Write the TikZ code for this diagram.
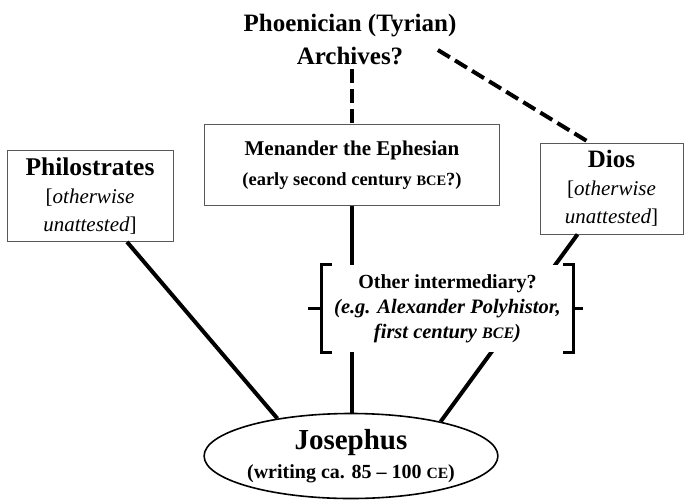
\documentclass[tikz,border=0pt]{standalone}
\usepackage{graphicx}
\usepackage{fontspec}
\setmainfont{Liberation Serif}
\usetikzlibrary{shapes.geometric, calc}
\tikzstyle{source} = [rectangle, draw=black!65, line width=0.8pt, align=center, fill=white]
\tikzstyle{target} = [ellipse, draw=black, line width=1.6pt, minimum width=263pt, minimum height=85pt, inner sep=0pt, align=center]
\tikzstyle{link} = [line width=4pt]
\tikzstyle{maybe} = [line width=4pt, dash pattern=on 14pt off 6pt]
\tikzstyle{brace} = [line width=3pt]
\newcommand{\era}[1]{\scalebox{0.78}{#1}}

\begin{document}
\begin{tikzpicture}[x=1pt, y=-1pt]
\useasboundingbox (0,0) rectangle (685,501);

% Nodes
\node (archives) [align=center, font=\fontsize{25}{33}\selectfont\bfseries] at (350,40)
{Phoenician (Tyrian)\\Archives?};

\node (menander) [source, minimum width=295pt, minimum height=81pt, font=\fontsize{21}{30}\selectfont\bfseries] at (352,165)
{Menander the Ephesian\\{\fontsize{18.5}{30}\selectfont(early second century \era{BCE}?)}};

\node (philo) [source, minimum width=166pt, minimum height=91pt, font=\fontsize{21}{28}\selectfont] at (90,196)
{{\fontsize{25.5}{28}\selectfont\bfseries Philostrates}\\{[}\textit{otherwise}\\\textit{unattested}]};

\node (dios) [source, minimum width=143pt, minimum height=91pt, font=\fontsize{21}{28}\selectfont] at (611.5,188.5)
{{\fontsize{25}{28}\selectfont\bfseries Dios}\\{[}\textit{otherwise}\\\textit{unattested}]};

\node (josephus) [target, font=\fontsize{20}{29}\selectfont\bfseries] at (351,456)
{{\fontsize{29}{29}\selectfont Josephus}\\(writing ca. 85 -- 100 \era{CE})};

% Lines
\draw [maybe] (archives.south -| menander.north) -- (menander.north);
\draw [maybe] ($(archives.east)+(-22,10)$) -- ([xshift=-22pt]dios.north);
\draw [link] ([xshift=37pt]philo.south) -- (josephus.153);
\draw [link] (menander.south) -- (menander.south |- josephus.north);
\draw [link] ([xshift=-34pt]dios.south) -- (josephus.21);

% Intermediary, drawn over the lines
\node (inter) [rectangle, fill=white, minimum width=251pt, minimum height=87pt, align=center, font=\fontsize{20}{25}\selectfont\bfseries] at (447.5,308.5)
{Other intermediary?\\{\fontsize{20.5}{25}\selectfont\textit{(e.g. Alexander Polyhistor,}}\\{\fontsize{20.5}{25}\selectfont\textit{first century \era{BCE})}}};
\draw [brace] ([xshift=10pt]inter.north west) -- (inter.north west) -- (inter.south west) -- ++(10,0);
\draw [brace] (inter.west) -- ++(-14,0);
\draw [brace] ([xshift=-10pt]inter.north east) -- (inter.north east) -- (inter.south east) -- ++(-10,0);
\draw [brace] (inter.east) -- ++(10,0);

\end{tikzpicture}
\end{document}
